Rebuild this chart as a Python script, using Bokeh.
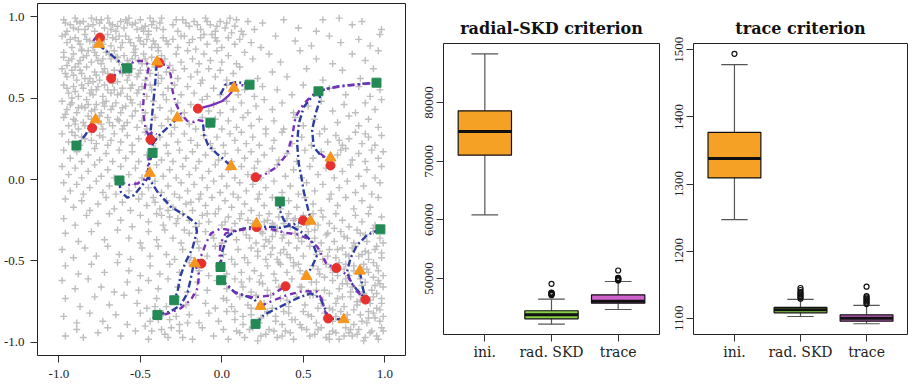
from bokeh.plotting import figure
from bokeh.layouts import row, column
from bokeh.models import Range1d, FixedTicker, PrintfTickFormatter
from bokeh.embed import file_html
from bokeh.resources import INLINE

# ---------------- data: candidate grid points (gray "+"), in hundredths ----------------
GRAY_PTS = """
-97,98 -93,95 -90,99 -88,92 -85,97 -82,94 -80,99 -78,91 -75,96 -72,93 -70,99 -67,95 -65,91 -62,97 -60,93 -57,99 -55,95 -52,92 -50,98 -47,94 -45,91 -42,97 -40,93 -37,99 -36,92 -95,91 -87,96 -77,98 -68,92 -58,96 -48,91 -44,99
-30,95 -27,91 -24,98 -20,94 -17,97 -13,92 -10,99 -7,95 -4,91 -1,97 2,93 5,99 8,94 12,91 16,97 20,92 25,96
38,98 47,93 58,91 72,99 80,95 86,97 98,92 62,98
-98,88 -95,84 -92,81 -90,87 -87,83 -84,89 -81,85 -79,81 -76,87 -73,83 -70,89 -68,82 -65,86 -62,81 -59,88 -56,84 -53,80 -51,87 -48,83 -45,89 -42,85 -39,81 -36,87 -33,83 -96,89 -86,80 -74,85 -63,88 -54,82 -43,81
-30,86 -27,81 -23,88 -20,84 -16,80 -13,87 -9,83 -6,89 -3,85 0,81 4,87 8,83 13,89 18,84
24,81 33,88 45,85 55,82 66,88 73,84 84,86 91,82 97,89
-97,78 -94,73 -91,77 -88,71 -85,75 -82,79 -80,72 -77,76 -74,71 -71,78 -68,74 -66,79 -63,72 -60,76 -57,71 -54,78 -51,73 -48,77 -46,71 -43,75 -39,79 -35,74 -32,70 -95,70 -86,79 -76,73 -65,75 -55,74 -49,71
-28,77 -25,72 -21,79 -18,74 -14,71 -11,77 -7,73 -3,79 0,72 4,76 9,71 14,78 19,74
29,77 36,72 48,79 58,74 68,71 80,77 88,73 96,79
-98,68 -95,63 -92,67 -89,61 -86,65 -83,69 -81,62 -78,66 -75,61 -72,68 -69,63 -66,67 -64,60 -61,65 -58,61 -55,68 -52,63 -50,67 -47,61 -44,65 -41,69 -37,62 -34,66 -90,69 -79,60 -70,65 -60,69
-30,67 -27,62 -23,68 -19,63 -15,66 -12,61 -8,68 -4,63 -1,67 3,61 7,65 11,69 22,62
31,66 40,63 52,68 62,61 74,67 85,62 93,68
-97,58 -94,53 -91,57 -88,51 -85,56 -82,59 -79,52 -76,57 -73,51 -70,55 -67,59 -64,52 -61,56 -58,51 -55,58 -52,53 -49,57 -46,51 -43,55 -39,59 -36,52 -33,56 -92,50 -80,55 -68,53
-29,58 -25,52 -21,57 -17,53 -13,59 -9,51 -5,56 -1,52 3,58 10,52 14,55 20,51 25,57
34,55 43,52 50,58 66,56 76,52 84,57 91,51 97,55
-98,48 -95,43 -92,47 -89,41 -86,45 -83,49 -80,42 -77,46 -74,41 -71,48 -68,43 -65,47 -62,41 -59,45 -56,49 -53,42 -50,46 -47,41 -42,48 -38,44 -34,49 -31,42 -96,40 -84,44 -72,45
-27,47 -23,41 -19,46 -12,49 -8,42 -5,46 -1,41 3,48 7,43 12,47 16,41 21,45 26,49
31,43 37,47 44,41 53,45 61,48 68,42 75,46 82,41 88,47 94,43 98,49
-97,38 -94,33 -91,37 -88,31 -85,35 -82,39 -79,32 -76,36 -73,31 -70,38 -67,33 -64,37 -61,31 -58,35 -55,39 -52,32 -49,36 -46,31 -41,38 -37,33 -33,37 -90,34 -75,39 -60,33
-29,32 -25,38 -20,34 -16,31 -12,38 -8,33 -4,37 0,31 4,36 9,32 13,38 18,33 23,37 27,31
32,36 38,31 45,38 50,33 57,37 63,31 71,35 78,39 84,33 90,37 96,32
-98,28 -94,23 -90,27 -87,21 -84,25 -80,29 -77,22 -73,26 -70,21 -66,28 -62,23 -58,27 -55,21 -51,25 -47,29 -42,22 -38,26 -34,21 -31,28 -92,29 -68,24
-27,23 -23,28 -19,24 -15,21 -11,27 -7,22 -3,26 1,21 5,28 8,24 12,29 15,22 19,26 23,21 27,28
32,24 37,29 43,22 49,26 55,21 60,28 65,23 70,27 74,21 78,25 82,29 86,22 90,26 94,21 98,27 72,24 88,28
-97,18 -93,13 -89,17 -86,11 -82,15 -78,19 -75,12 -71,16 -67,11 -63,18 -59,13 -55,17 -51,11 -46,15 -41,19 -37,12 -33,16 -30,11
-26,18 -22,13 -18,17 -14,11 -10,15 -6,19 -2,12 2,16 6,11 10,18 14,13 18,17 22,11 26,15
31,19 35,12 40,16 46,11 51,18 56,13 61,17 66,11 71,15 76,19 80,12 84,16 88,11 92,18 96,13 99,17 73,18
-98,8 -94,3 -90,7 -86,1 -82,5 -78,9 -74,2 -70,6 -66,1 -62,8 -57,3 -53,7 -49,1 -45,5 -40,9 -36,2 -32,6
-28,1 -24,8 -20,3 -16,7 -12,1 -8,5 -4,9 0,2 4,6 8,1 12,8 16,3 20,7 24,1
29,5 34,9 39,2 44,6 49,1 54,8 59,3 64,7 69,1 74,5 79,9 84,2 89,6 94,1 98,8
-97,-2 -93,-7 -89,-3 -85,-9 -81,-5 -77,-1 -73,-8 -69,-4 -65,-9 -61,-2 -57,-7 -53,-3 -49,-9 -45,-5 -41,-1 -37,-8 -33,-4
-29,-9 -25,-2 -21,-7 -17,-3 -13,-9 -9,-5 -5,-1 -1,-8 3,-4 7,-9 11,-2 15,-7 19,-3 23,-9 27,-5
32,-1 37,-8 42,-4 47,-9 52,-2 57,-7 62,-3 67,-9 72,-5 77,-1 82,-8 87,-4 92,-9 97,-2
-96,-12 -91,-17 -86,-13 -81,-19 -76,-15 -71,-11 -66,-18 -61,-14 -56,-19 -51,-12 -46,-16
-42,-11 -38,-18 -34,-13 -30,-17 -26,-11 -22,-15 -18,-19 -14,-12 -10,-16 -6,-11 -2,-18 2,-13 6,-17 10,-11 14,-15 18,-19 22,-12 26,-16
31,-11 36,-18 41,-13 46,-17 51,-11 56,-15 61,-19 66,-12 71,-16 76,-11 81,-18 86,-13 91,-17 96,-11
-97,-24 -90,-28 -83,-22 -76,-27 -69,-21 -62,-25 -55,-29 -50,-22
-45,-26 -40,-21 -36,-28 -32,-23 -28,-27 -24,-21 -20,-25 -16,-29 -12,-22 -8,-26 -4,-21 0,-28 4,-23 8,-27 12,-21 16,-25
20,-29 23,-22 26,-26 29,-21 32,-28 35,-23 38,-27 41,-21 44,-25 47,-29 50,-22 53,-26 56,-21 59,-28 62,-23 66,-27 70,-21 74,-25 78,-29 82,-22 86,-26 90,-21 94,-28 98,-23 28,-25 40,-24 52,-28
-96,-33 -88,-38 -80,-32 -72,-37 -64,-31 -57,-36
-50,-39 -45,-32 -40,-37 -35,-31 -30,-36 -25,-39 -20,-33 -15,-38 -10,-32 -5,-36 0,-39 4,-33
9,-37 13,-31 17,-36 21,-39 25,-33 29,-38 33,-32 37,-36 41,-39 45,-33 49,-38 53,-32 57,-36 61,-39 65,-33 69,-38 73,-32 77,-36 81,-39 85,-33 89,-38 93,-32 97,-36 99,-39 31,-35 47,-36
-98,-43 -91,-48 -84,-42 -77,-47 -70,-41 -63,-46 -56,-49
-49,-42 -44,-47 -39,-41 -34,-46 -29,-49 -24,-43 -19,-48 -14,-42 -9,-47 -4,-41 1,-46
6,-49 10,-43 14,-48 18,-42 22,-47 26,-41 30,-46 34,-49 38,-43 42,-48 46,-42 50,-47 54,-41 58,-46 62,-49 66,-43 70,-48 74,-42 78,-47 82,-41 86,-46 90,-49 94,-43 98,-48 36,-45 88,-44
-96,-53 -88,-58 -80,-52 -72,-57 -64,-51 -57,-56
-50,-59 -44,-53 -38,-58 -32,-52 -26,-57 -20,-51 -14,-56 -8,-59 -2,-53 3,-58
8,-52 12,-57 16,-51 20,-56 24,-59 28,-53 32,-58 36,-52 40,-57 44,-51 48,-56 52,-59 56,-53 60,-58 64,-52 68,-57 72,-51 75,-55 78,-59 81,-53 84,-58 87,-52 90,-57 93,-51 96,-56 99,-59 76,-52 86,-55 95,-53
-98,-62 -90,-67 -82,-61 -74,-66 -66,-69 -58,-63
-51,-68 -45,-62 -39,-67 -33,-61 -27,-66 -21,-69 -15,-63 -9,-68 -3,-62
3,-67 8,-61 13,-66 18,-69 23,-63 28,-68 33,-62 38,-67 43,-61 48,-66 53,-69 58,-63 63,-68 68,-62 72,-67 76,-61 80,-66 84,-69 88,-63 92,-68 96,-62 99,-66 74,-64 86,-65 94,-65
-96,-73 -87,-78 -78,-72 -69,-77 -60,-71
-52,-76 -46,-79 -40,-73 -34,-78 -28,-72 -22,-77 -16,-71 -10,-76 -4,-79 1,-73
6,-78 11,-72 16,-77 21,-71 26,-76 31,-79 36,-73 41,-78 46,-72 51,-77 56,-71 61,-76 66,-79 71,-73 75,-78 79,-72 83,-77 87,-71 91,-76 95,-79 98,-73 93,-72 85,-74
-97,-84 -89,-88 -81,-82 -73,-87 -65,-83 -58,-89
-50,-82 -44,-87 -38,-81 -32,-86 -26,-89 -20,-83 -14,-88 -8,-82 -2,-87 3,-81
8,-86 13,-89 18,-83 23,-88 28,-82 33,-87 38,-81 43,-86 48,-89 53,-83 58,-88 63,-82 68,-87 73,-81 77,-86 81,-89 85,-83 89,-88 93,-82 97,-87 99,-84 70,-84 90,-85
-96,-96 -89,-92 -85,-97 -76,-94 -70,-91 -62,-96 -53,-93
-45,-98 -37,-92 -33,-97 -26,-93 -18,-98 -12,-91 -5,-96 1,-92 4,-98
9,-93 14,-97 19,-91 24,-96 29,-92 34,-97 39,-93 44,-98 49,-91 54,-96 59,-92 64,-97 68,-93 72,-98 76,-91 80,-96 84,-92 88,-97 92,-93 96,-98 98,-91 66,-95 78,-94
"""
# extra points in the denser clusters (top-left, bottom-right, lower middle)
GRAY_DENSE = """
-96,96 -91,93 -89,97 -84,92 -79,95 -74,98 -69,96 -64,94 -59,98 -53,96 -49,93 -43,95 -38,96 -93,86 -88,85 -83,86 -78,84 -72,86 -67,87 -61,84 -57,86 -50,85 -46,86 -41,83 -34,85
-97,75 -92,74 -87,73 -83,76 -78,78 -73,74 -69,77 -64,75 -58,73 -53,76 -47,74 -41,72 -37,76 -96,65 -91,64 -87,67 -84,62 -77,64 -73,66 -67,63 -62,67 -57,64 -51,65 -45,67 -39,64
-95,56 -90,54 -86,58 -81,53 -77,55 -72,58 -66,55 -62,53 -56,56 -51,55 -44,58 -93,46 -88,44 -82,46 -78,43 -73,47 -67,45 -61,44 -55,47 -90,36 -84,33 -80,37 -74,34 -69,35 -63,36 -86,26 -80,24 -75,27
-28,98 -22,96 -15,95 -9,97 -3,94 3,96 9,98 -25,88 -18,86 -11,89 -4,87 6,90 11,86
47,-52 51,-58 55,-63 59,-55 63,-60 67,-54 71,-59 77,-64 81,-56 85,-61 89,-55 93,-60 97,-64 49,-66 54,-71 58,-68 62,-74 66,-70 70,-76 74,-72 79,-69 83,-75 87,-70 91,-74 95,-70 98,-76
50,-81 55,-84 59,-79 64,-85 68,-80 72,-86 77,-83 81,-80 86,-87 90,-81 94,-85 97,-80 52,-92 57,-95 61,-91 66,-98 70,-94 75,-96 79,-92 83,-95 87,-99 91,-94 95,-96 99,-93
60,-44 65,-47 71,-43 76,-46 80,-42 84,-47 90,-45 95,-41 98,-45 57,-31 64,-34 69,-30 75,-35 83,-31 88,-34 93,-30
2,-26 6,-31 11,-24 15,-34 19,-27 24,-32 27,-37 31,-27 34,-30 38,-34 42,-29 45,-24 22,-44 27,-49 31,-42 35,-51 40,-46 44,-53
3,-74 8,-81 13,-84 18,-79 24,-85 28,-81 33,-84 37,-89 41,-82 45,-86 11,-94 17,-92 22,-99 27,-95 32,-93 37,-96 42,-94 12,-63 17,-61 25,-64 30,-71 35,-66 40,-74
-47,-90 -43,-93 -39,-86 -35,-95 -31,-91 -28,-84 -24,-97 -21,-88 -41,-78 -36,-82
-41,-14 -37,-22 -33,-19 -27,-24 -23,-31 -19,-14 -14,-27 -9,-21 -6,-34
"""
gray_pairs = [s.split(",") for s in (GRAY_PTS + GRAY_DENSE).split()]
gray_x = [int(a) / 100 for a, b in gray_pairs]
gray_y = [int(b) / 100 for a, b in gray_pairs]

# initial design (red circles)
INI_X = [-0.748, -0.679, -0.795, -0.384, -0.147, -0.438, 0.207, 0.667, 0.499, 0.213, -0.125, 0.391, 0.703, 0.881, 0.652]
INI_Y = [0.871, 0.620, 0.316, 0.716, 0.435, 0.245, 0.014, 0.086, -0.251, -0.292, -0.516, -0.655, -0.543, -0.737, -0.853]
# trace-optimal design (orange triangles)
TRC_X = [-0.753, -0.397, -0.775, -0.274, 0.074, -0.442, 0.057, 0.667, 0.544, 0.213, -0.166, 0.237, 0.519, 0.847, 0.748]
TRC_Y = [0.831, 0.722, 0.367, 0.378, 0.561, 0.039, 0.080, 0.133, -0.255, -0.271, -0.516, -0.778, -0.594, -0.561, -0.859]
# radial-SKD optimal design (green squares)
SKD_X = [-0.581, -0.892, 0.170, -0.070, -0.425, -0.628, 0.593, 0.949, 0.356, 0.973, -0.008, -0.004, -0.292, -0.395, 0.207]
SKD_Y = [0.682, 0.208, 0.582, 0.349, 0.163, -0.006, 0.541, 0.594, -0.135, -0.306, -0.537, -0.618, -0.741, -0.831, -0.886]

# optimisation paths (blue: radial-SKD, purple: trace)
BLUE_PATHS = [
    [(-0.757, 0.827), (-0.661, 0.751), (-0.583, 0.680)],
    [(-0.779, 0.367), (-0.804, 0.339), (-0.834, 0.278), (-0.890, 0.210)],
    [(-0.399, 0.710), (-0.411, 0.567), (-0.425, 0.424), (-0.436, 0.302), (-0.425, 0.220), (-0.425, 0.169), (-0.446, 0.098), (-0.456, 0.037)],
    [(-0.425, 0.220), (-0.384, 0.271), (-0.333, 0.318), (-0.276, 0.373)],
    [(-0.115, 0.339), (-0.108, 0.271), (-0.084, 0.210), (-0.027, 0.155), (0.014, 0.122), (0.057, 0.080)],
    [(-0.008, 0.522), (0.022, 0.582), (0.094, 0.598), (0.170, 0.584)],
    [(0.591, 0.541), (0.544, 0.496), (0.503, 0.445), (0.472, 0.343), (0.462, 0.220), (0.472, 0.098), (0.493, -0.012), (0.503, -0.076), (0.528, -0.178), (0.548, -0.255)],
    [(0.591, 0.541), (0.605, 0.496), (0.575, 0.404), (0.554, 0.302), (0.564, 0.200), (0.605, 0.149), (0.667, 0.118)],
    [(0.591, 0.541), (0.667, 0.563), (0.748, 0.576), (0.871, 0.588), (0.947, 0.594)],
    [(-0.630, -0.010), (-0.620, -0.076), (-0.579, -0.112), (-0.538, -0.096), (-0.497, -0.045), (-0.456, 0.006), (-0.442, 0.039)],
    [(-0.442, 0.039), (-0.446, 0.006), (-0.395, -0.076), (-0.313, -0.167), (-0.211, -0.229), (-0.160, -0.269), (-0.153, -0.320), (-0.180, -0.422), (-0.221, -0.504), (-0.252, -0.586), (-0.272, -0.688), (-0.292, -0.739)],
    [(-0.395, -0.831), (-0.313, -0.810), (-0.252, -0.769), (-0.211, -0.698), (-0.190, -0.606), (-0.174, -0.524)],
    [(-0.008, -0.535), (0.002, -0.443), (0.033, -0.351), (0.094, -0.310), (0.176, -0.292), (0.278, -0.290), (0.360, -0.296), (0.431, -0.280), (0.499, -0.255)],
    [(0.354, -0.133), (0.360, -0.198), (0.380, -0.249), (0.431, -0.290), (0.503, -0.331), (0.554, -0.382), (0.585, -0.463), (0.554, -0.535), (0.519, -0.590)],
    [(-0.004, -0.612), (0.074, -0.688), (0.196, -0.733), (0.237, -0.778)],
    [(0.207, -0.886), (0.258, -0.831), (0.360, -0.780), (0.462, -0.729), (0.544, -0.698), (0.605, -0.729), (0.636, -0.800), (0.652, -0.851), (0.748, -0.861)],
    [(0.973, -0.304), (0.892, -0.341), (0.830, -0.402), (0.789, -0.484), (0.769, -0.565), (0.789, -0.627), (0.830, -0.678), (0.881, -0.733)],
    [(0.847, -0.565), (0.861, -0.647), (0.875, -0.708), (0.881, -0.733)],
]
PURPLE_PATHS = [
    [(-0.79, 0.85), (-0.77, 0.875), (-0.75, 0.875)],
    [(-0.681, 0.624), (-0.630, 0.659), (-0.583, 0.680), (-0.538, 0.727), (-0.476, 0.727), (-0.446, 0.700), (-0.460, 0.639), (-0.476, 0.547), (-0.485, 0.424), (-0.466, 0.302), (-0.440, 0.251)],
    [(-0.456, 0.271), (-0.425, 0.292), (-0.399, 0.278)],
    [(-0.440, 0.251), (-0.446, 0.180), (-0.452, 0.098), (-0.456, 0.037)],
    [(-0.384, 0.714), (-0.333, 0.700), (-0.313, 0.639), (-0.303, 0.547), (-0.282, 0.465), (-0.252, 0.404), (-0.211, 0.359), (-0.170, 0.353), (-0.153, 0.367), (-0.119, 0.359), (-0.098, 0.339)],
    [(0.070, 0.557), (0.084, 0.578), (0.135, 0.578), (0.170, 0.584)],
    [(0.207, 0.016), (0.258, 0.027), (0.339, 0.078), (0.401, 0.159), (0.431, 0.261), (0.452, 0.384), (0.503, 0.465), (0.554, 0.516), (0.591, 0.541), (0.646, 0.557), (0.728, 0.571), (0.810, 0.580), (0.892, 0.588), (0.947, 0.594)],
    [(0.605, 0.159), (0.642, 0.129), (0.663, 0.094)],
    [(-0.630, -0.010), (-0.579, -0.035), (-0.517, -0.024), (-0.466, 0.006), (-0.442, 0.039)],
    [(-0.166, -0.514), (-0.139, -0.586), (-0.149, -0.667), (-0.190, -0.739), (-0.252, -0.790), (-0.323, -0.820), (-0.425, -0.851)],
    [(-0.166, -0.514), (-0.149, -0.504), (-0.119, -0.453), (-0.098, -0.392), (-0.067, -0.331), (-0.006, -0.300), (0.074, -0.316), (0.155, -0.304), (0.217, -0.304), (0.299, -0.304), (0.391, -0.327), (0.462, -0.337), (0.524, -0.361), (0.585, -0.412), (0.646, -0.524), (0.701, -0.541), (0.769, -0.586), (0.830, -0.688), (0.881, -0.733)],
    [(-0.008, -0.535), (-0.014, -0.463), (-0.008, -0.392), (0.023, -0.331), (0.074, -0.316)],
    [(-0.004, -0.612), (0.084, -0.698), (0.196, -0.724), (0.299, -0.712), (0.393, -0.653)],
    [(0.237, -0.778), (0.299, -0.749), (0.401, -0.708), (0.503, -0.684), (0.585, -0.688), (0.615, -0.739), (0.630, -0.800), (0.652, -0.851)],
]
PURPLE_SOLID = [(-0.149, 0.433), (-0.067, 0.455), (0.004, 0.482), (0.043, 0.516), (0.070, 0.551)]

# boxplot summaries
CATS = [1, 2, 3]
CAT_LABELS = ["ini.", "rad. SKD", "trace"]
BOX_COLORS = ["#F5A125", "#86CF45", "#D062CD"]

SKD_LOWER = [60860, 42210, 44720]
SKD_Q1 = [71020, 43130, 45790]
SKD_MED = [75060, 43810, 46130]
SKD_Q3 = [78580, 44500, 47220]
SKD_UPPER = [88300, 46470, 49490]
SKD_OUT_X = [2, 2, 2, 2, 2, 2, 2, 2, 3, 3, 3, 3, 3, 3, 3, 3]
SKD_OUT_Y = [47150, 47250, 47320, 47400, 47470, 47540, 47600, 49100,
             49680, 49760, 49830, 49900, 49970, 50050, 50100, 51360]

TR_LOWER = [1247, 1102.5, 1091.7]
TR_Q1 = [1309, 1108, 1095.5]
TR_MED = [1338, 1112.5, 1100]
TR_Q3 = [1377, 1116, 1105]
TR_UPPER = [1478, 1128, 1119]
TR_OUT_X = [1, 2, 2, 2, 2, 2, 2, 2, 2, 3, 3, 3, 3, 3, 3, 3, 3]
TR_OUT_Y = [1494, 1129, 1131, 1133, 1135, 1137, 1139, 1142, 1145,
            1121, 1123, 1125, 1127, 1129, 1131, 1133, 1147]

# ---------------- styling helpers ----------------
NUM_FONT = "Liberation Serif"
CAT_FONT = "DejaVu Serif"


def style(p):
    p.grid.visible = False
    p.outline_line_color = "#222222"
    p.outline_line_width = 1
    p.background_fill_color = "white"
    p.border_fill_color = "white"
    for ax in p.axis:
        ax.axis_line_color = None
        ax.major_tick_out = 7
        ax.major_tick_in = 0
        ax.minor_tick_line_color = None
        ax.major_tick_line_color = "#333333"
        ax.major_label_text_font = NUM_FONT
        ax.major_label_text_font_size = "13px"
        ax.major_label_text_color = "#222222"


# ---------------- panel 1: design ----------------
p1 = figure(width=420, height=386, output_backend="svg", toolbar_location=None,
            x_range=Range1d(-1.131, 1.127), y_range=Range1d(-1.08, 1.08),
            min_border_left=37, min_border_right=15, min_border_top=3, min_border_bottom=31)
style(p1)
for ax in (p1.xaxis[0], p1.yaxis[0]):
    ax.ticker = FixedTicker(ticks=[-1, -0.5, 0, 0.5, 1])
    ax.formatter = PrintfTickFormatter(format="%.1f")
p1.xaxis.major_label_standoff = 7
p1.yaxis.major_label_standoff = 6

p1.scatter(gray_x, gray_y, marker="cross", size=7, line_color="#BEBEBE", line_width=1.4)
p1.multi_line(xs=[[a for a, b in pth] for pth in BLUE_PATHS],
              ys=[[b for a, b in pth] for pth in BLUE_PATHS],
              line_color="#2D3C9F", line_width=2.4, line_dash="7 3 2 3")
p1.multi_line(xs=[[a for a, b in pth] for pth in PURPLE_PATHS],
              ys=[[b for a, b in pth] for pth in PURPLE_PATHS],
              line_color="#7A2FB8", line_width=2.4, line_dash="6 4 2 4")
p1.line([a for a, b in PURPLE_SOLID], [b for a, b in PURPLE_SOLID], line_color="#7A2FB8", line_width=2.2)
p1.scatter(INI_X, INI_Y, marker="circle", size=9, fill_color="#E8302E", line_color="#E8302E")
p1.scatter(TRC_X, TRC_Y, marker="triangle", size=11, fill_color="#F5961E", line_color="#F5961E")
p1.scatter(SKD_X, SKD_Y, marker="square", size=9, fill_color="#248A55", line_color="#248A55")


# ---------------- boxplot panels ----------------
def boxplot(p, lower, q1, med, q3, upper, out_x, out_y):
    half, cap = 0.4, 0.2
    p.segment(x0=CATS, y0=q3, x1=CATS, y1=upper, line_color="#555555", line_width=1.2)
    p.segment(x0=CATS, y0=q1, x1=CATS, y1=lower, line_color="#555555", line_width=1.2)
    p.segment(x0=[c - cap for c in CATS], y0=upper, x1=[c + cap for c in CATS], y1=upper,
              line_color="#555555", line_width=1.2)
    p.segment(x0=[c - cap for c in CATS], y0=lower, x1=[c + cap for c in CATS], y1=lower,
              line_color="#555555", line_width=1.2)
    p.quad(left=[c - half for c in CATS], right=[c + half for c in CATS], bottom=q1, top=q3,
           fill_color=BOX_COLORS, line_color="#111111", line_width=1.2)
    p.segment(x0=[c - half for c in CATS], y0=med, x1=[c + half for c in CATS], y1=med,
              line_color="#111111", line_width=3)
    p.scatter(out_x, out_y, marker="circle", size=5, fill_color=None, line_color="#111111", line_width=1.2)


def box_fig(title, y0, y1, ticks, w, left, right):
    p = figure(width=w, height=386, output_backend="svg", toolbar_location=None,
               x_range=Range1d(0.38, 3.62), y_range=Range1d(y0, y1),
               min_border_left=left, min_border_right=right, min_border_top=43, min_border_bottom=52,
               title=title)
    style(p)
    p.title.align = "center"
    p.title.text_font = CAT_FONT
    p.title.text_font_size = "16px"
    p.title.text_font_style = "bold"
    p.title.text_color = "#111111"
    p.title.standoff = 12
    p.xaxis.ticker = FixedTicker(ticks=CATS)
    p.xaxis.major_label_overrides = {c: lab for c, lab in zip(CATS, CAT_LABELS)}
    p.xaxis.major_label_text_font = CAT_FONT
    p.xaxis.major_label_text_font_size = "14px"
    p.xaxis.major_label_standoff = 2
    p.yaxis.ticker = FixedTicker(ticks=ticks)
    p.yaxis.formatter = PrintfTickFormatter(format="%d")
    p.yaxis.major_label_orientation = "vertical"
    p.yaxis.major_label_standoff = 3
    return p


p2 = box_fig("radial-SKD criterion", 40455, 90055, [50000, 60000, 70000, 80000], 243, 23, 4)
boxplot(p2, SKD_LOWER, SKD_Q1, SKD_MED, SKD_Q3, SKD_UPPER, SKD_OUT_X, SKD_OUT_Y)

p3 = box_fig("trace criterion", 1075.7, 1509.4, [1100, 1200, 1300, 1400, 1500], 245, 30, 1)
boxplot(p3, TR_LOWER, TR_Q1, TR_MED, TR_Q3, TR_UPPER, TR_OUT_X, TR_OUT_Y)

layout = row(column(p1), column(p2), column(p3))
open("out.html", "w").write(file_html(layout, INLINE))
